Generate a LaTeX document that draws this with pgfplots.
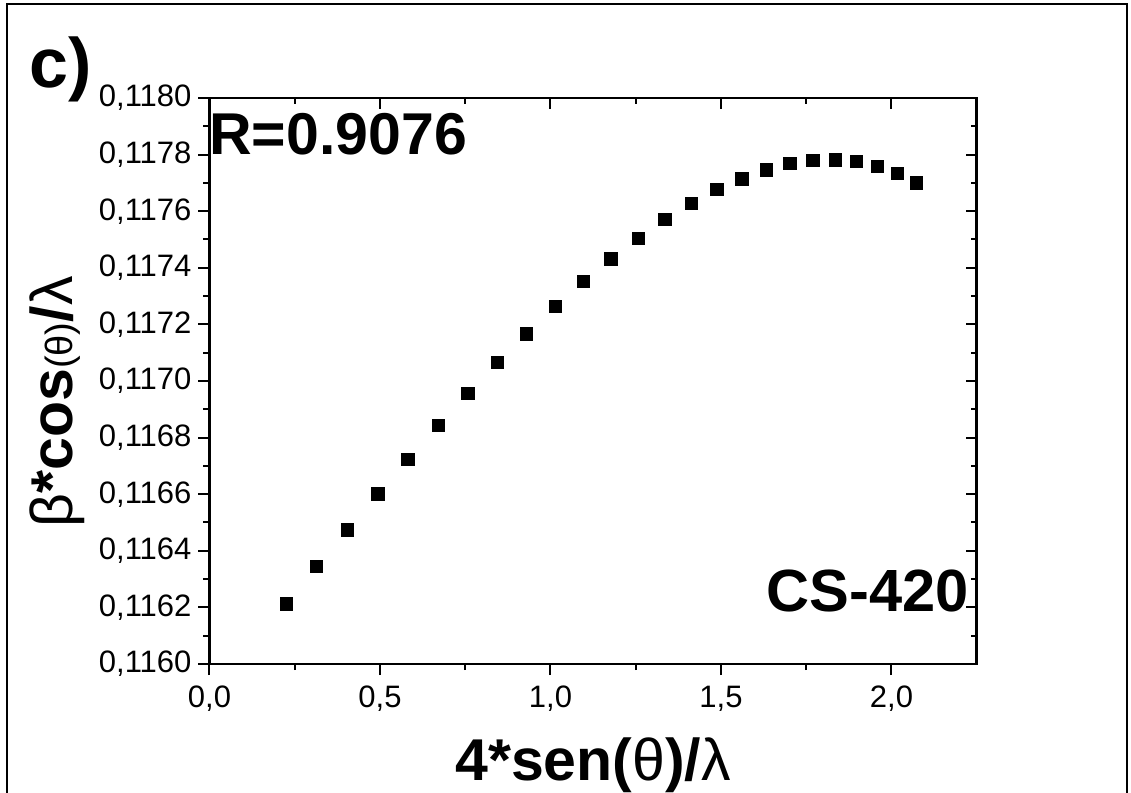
\documentclass[border=0pt]{standalone}
\usepackage{pgfplots}
\pgfplotsset{compat=1.18}
\usepackage{fontspec}
\setmainfont{Liberation Sans}

\pgfplotstableread{
x y
0.2264 0.116212
0.3144 0.116344
0.4053 0.116473
0.4941 0.116601
0.5821 0.116723
0.6710 0.116842
0.7581 0.116955
0.8440 0.117065
0.9302 0.117166
1.0141 0.117263
1.0962 0.117351
1.1774 0.117431
1.2587 0.117504
1.3358 0.117571
1.4129 0.117627
1.4883 0.117676
1.5616 0.117714
1.6328 0.117746
1.7023 0.117768
1.7698 0.117780
1.8352 0.117781
1.8980 0.117775
1.9584 0.117757
2.0170 0.117733
2.0727 0.117699
}\datatable

\pgfplotsset{
  myaxis/.style={
    at={(104.75pt,64.5pt)}, anchor=south west, scale only axis,
    width=383.6pt, height=283pt,
    xmin=0, xmax=2.25, ymin=0.116, ymax=0.118,
    xtick={0,0.5,1,1.5,2},
    ytick={0.1160,0.1162,0.1164,0.1166,0.1168,0.1170,0.1172,0.1174,0.1176,0.1178,0.1180},
    minor x tick num=1, minor y tick num=1,
    major tick length=5.5pt, minor tick length=3pt,
    axis line style={line width=1.3pt},
    every tick/.style={line width=1pt, black},
    scaled ticks=false,
    clip=false,
  }
}

\begin{document}
\begin{tikzpicture}[x=0.5pt,y=0.5pt]
\useasboundingbox (0,0) rectangle (1131,793);
\draw[line width=1pt] (7,0) -- (7,789) -- (1127,789) -- (1127,0);

% inside ticks on top and right
\begin{axis}[myaxis,
  tick align=inside, xtick pos=right, ytick pos=right,
  xticklabels={}, yticklabels={}]
\end{axis}

\begin{axis}[myaxis,
  tick align=outside, xtick pos=left, ytick pos=left,
  /pgf/number format/assume math mode=true,
  ticklabel style={font=\fontsize{15.5}{18}\selectfont},
  xticklabel style={yshift=-2pt, /pgf/number format/.cd, fixed, fixed zerofill, precision=1, use comma},
  yticklabel style={/pgf/number format/.cd, fixed, fixed zerofill, precision=4, use comma},
  xlabel={\bfseries 4*sen(\mdseries θ\bfseries)/\mdseries λ},
  ylabel={\mdseries β\bfseries*cos{\mdseries\fontsize{19}{22}\selectfont(θ)}/\mdseries λ},
  label style={font=\fontsize{29.5}{35}\selectfont},
  xlabel style={at={(axis description cs:0.5,-0.2050)}, anchor=base},
  ylabel style={at={(axis description cs:-0.1786,0.463)}, anchor=base},
]
\addplot[only marks, mark=square*, mark size=3.1pt,
  mark options={fill=black, draw=black, line width=0pt}] table[x=x,y=y] {\datatable};
\end{axis}

\node[anchor=base west, inner sep=0pt, font=\bfseries\fontsize{29.5}{35}\selectfont] at (209,638) {R=0.9076};
\node[anchor=base west, inner sep=0pt, font=\bfseries\fontsize{29.8}{35}\selectfont] at (766,181) {CS-420};
\node[anchor=base west, inner sep=0pt, font=\bfseries\fontsize{35}{40}\selectfont] at (29,705) {c)};
\end{tikzpicture}
\end{document}
